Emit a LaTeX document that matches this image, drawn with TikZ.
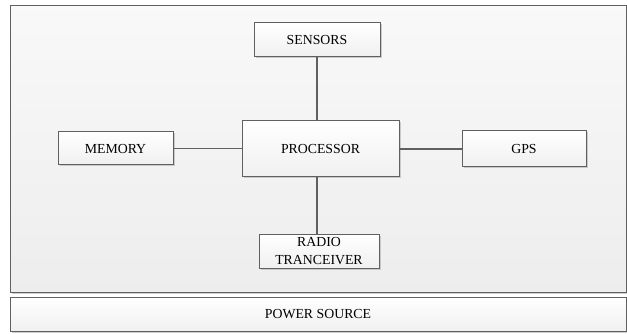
\documentclass[tikz,border=0pt]{standalone}
\usepackage{fontspec}
\setmainfont{Liberation Serif}
\usetikzlibrary{shadows}
\begin{document}
\begin{tikzpicture}[x=1pt,y=-1pt,
  blk/.style={draw=gray!75!black, line width=1pt, top color=white, bottom color=gray!12,
    drop shadow={shadow xshift=1.5pt, shadow yshift=-1.5pt, fill=gray!55, opacity=0.7},
    inner sep=0pt, align=center, font=\fontsize{13.8}{17.5}\selectfont},
  link/.style={draw=gray!75!black, line width=1.1pt}]
\useasboundingbox (0,0) rectangle (627,334);
\node[blk, top color=gray!5, bottom color=gray!14, minimum width=616, minimum height=286] (board) at (318,149) {};
\node[blk, minimum width=616, minimum height=34] (power) at (318,314.5) {POWER SOURCE};
\node[blk, minimum width=126, minimum height=34] (sensors) at (317,40) {SENSORS};
\node[blk, minimum width=157, minimum height=56] (proc) at (320.5,149) {PROCESSOR};
\node[blk, minimum width=115, minimum height=33] (mem) at (115.5,148.5) {MEMORY};
\node[blk, minimum width=124, minimum height=36] (gps) at (524,149) {GPS};
\node[blk, minimum width=120, minimum height=34] (radio) at (319,251) {RADIO\\TRANCEIVER};
\draw[link] (sensors.south) -- (sensors.south |- proc.north);
\draw[link] (proc.south -| sensors.south) -- (radio.north -| sensors.south);
\draw[link] (mem.east) -- (mem.east -| proc.west);
\draw[link] (proc.east |- gps.west) -- (gps.west);
\end{tikzpicture}
\end{document}
